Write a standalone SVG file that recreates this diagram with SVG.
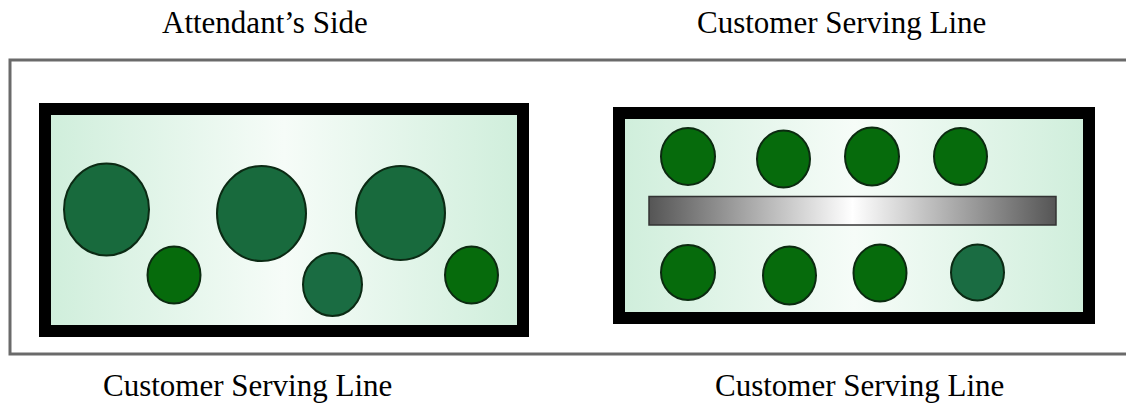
<svg xmlns="http://www.w3.org/2000/svg" width="1126" height="406" viewBox="0 0 1126 406">
<defs>
<linearGradient id="mint" x1="0" y1="0" x2="1" y2="0">
<stop offset="0" stop-color="#cfeedb"/>
<stop offset="0.5" stop-color="#f6fcf8"/>
<stop offset="1" stop-color="#cfeedb"/>
</linearGradient>
<linearGradient id="bar" x1="0" y1="0" x2="1" y2="0">
<stop offset="0" stop-color="#555555"/>
<stop offset="0.5" stop-color="#ffffff"/>
<stop offset="1" stop-color="#555555"/>
</linearGradient>
<style>
.lbl{font-family:"Liberation Serif","Times New Roman",serif;font-size:31px;fill:#000}
.box{fill:url(#mint);stroke:#000;stroke-width:12}
.big{fill:#186a3d;stroke:#0b2a14;stroke-width:2}
.sm{fill:#066b0c;stroke:#0b2a10;stroke-width:2}
.teal{fill:#1a6c42;stroke:#0b2a14;stroke-width:2}
</style>
</defs>
<rect id="frame" x="10" y="60" width="1125" height="294" fill="#fff" stroke="#6a6a6a" stroke-width="3"/>
<g id="labels">
<text class="lbl" x="162" y="33">Attendant’s Side</text>
<text class="lbl" x="697" y="33">Customer Serving Line</text>
<text class="lbl" x="103" y="396">Customer Serving Line</text>
<text class="lbl" x="715" y="396">Customer Serving Line</text>
</g>
<g id="attendant-area">
<rect class="box" x="45" y="109" width="478" height="222"/>
<ellipse class="big" cx="106.5" cy="209.5" rx="42.5" ry="46"/>
<ellipse class="big" cx="261.5" cy="213.5" rx="44.5" ry="47.5"/>
<ellipse class="big" cx="400.5" cy="213" rx="44.5" ry="47"/>
<ellipse class="sm" cx="174" cy="275" rx="26.5" ry="28.5"/>
<ellipse class="teal" cx="332.5" cy="284.5" rx="29.5" ry="31.5"/>
<ellipse class="sm" cx="471.5" cy="275" rx="26.5" ry="28.5"/>
</g>
<g id="serving-line">
<rect class="box" x="619" y="113" width="470" height="205"/>
<rect x="649" y="196.5" width="407" height="28.5" fill="url(#bar)" stroke="#333" stroke-width="1.5"/>
<ellipse class="sm" cx="688" cy="156.5" rx="27" ry="28.5"/>
<ellipse class="sm" cx="783.5" cy="159" rx="26.5" ry="28.5"/>
<ellipse class="sm" cx="872" cy="156.5" rx="27" ry="29"/>
<ellipse class="sm" cx="960.5" cy="156.5" rx="26.5" ry="28.5"/>
<ellipse class="sm" cx="688" cy="272.5" rx="27" ry="27.5"/>
<ellipse class="sm" cx="789.5" cy="275.5" rx="26.5" ry="29"/>
<ellipse class="sm" cx="880" cy="273" rx="26.5" ry="28.5"/>
<ellipse class="teal" cx="977.5" cy="272.5" rx="26.5" ry="28"/>
</g>
</svg>
